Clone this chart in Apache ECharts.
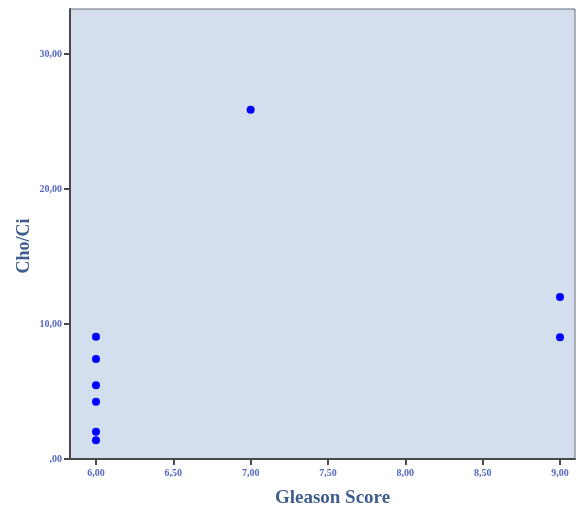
<!DOCTYPE html>
<html>
<head>
<meta charset="utf-8">
<script src="https://cdn.jsdelivr.net/npm/echarts@6/dist/echarts.min.js"></script>
<style>html,body{margin:0;padding:0;background:#fff;}#c{width:577px;height:507px;}</style>
</head>
<body>
<div id="c"></div>
<script>
const xValues = [6, 6, 6, 6, 6, 6, 7, 9, 9];
const yValues = [9.06, 7.41, 5.46, 4.24, 2.02, 1.39, 25.87, 12.0, 9.01];
const xTicks = [6, 6.5, 7, 7.5, 8, 8.5, 9];
const yTicks = [0, 10, 20, 30];
const xName = 'Gleason Score';
const yName = 'Cho/Ci';

function fmt(v) {
  let s = v.toFixed(2).replace('.', ',');
  if (s.startsWith('0,')) s = s.slice(1);
  return s;
}

const points = xValues.map((x, i) => [x, yValues[i]]);
const chart = echarts.init(document.getElementById('c'), null, {renderer: 'canvas'});
const labelStyle = {fontFamily: 'Liberation Serif', fontWeight: 'bold', fontSize: 10, color: '#5468c4'};
chart.setOption({
  animation: false,
  backgroundColor: '#ffffff',
  grid: {left: 70, top: 9, right: 2, bottom: 48, containLabel: false, outerBoundsMode: 'none', show: true, backgroundColor: '#d3dfee', borderColor: '#6a6f78', borderWidth: 1},
  xAxis: {
    type: 'value', min: 5.832, max: 9.097,
    name: xName, nameLocation: 'middle', nameGap: 30, nameMoveOverlap: false,
    nameTextStyle: {fontFamily: 'Liberation Serif', fontWeight: 'bold', fontSize: 19, color: '#3f5e8e', padding: [0, 0, 0, 20]},
    axisLine: {show: true, lineStyle: {color: '#4a4a4a', width: 2}},
    axisTick: {show: true, inside: false, length: 6, lineStyle: {color: '#4a4a4a', width: 2}, customValues: xTicks},
    axisLabel: Object.assign({margin: 9, customValues: xTicks, formatter: fmt}, labelStyle),
    splitLine: {show: false}
  },
  yAxis: {
    type: 'value', min: 0, max: 33.33,
    name: yName, nameLocation: 'middle', nameGap: 37, nameRotate: 90, nameMoveOverlap: false,
    nameTextStyle: {fontFamily: 'Liberation Serif', fontWeight: 'bold', fontSize: 18, color: '#3f5e8e', padding: [0, 24, 0, 0]},
    axisLine: {show: true, lineStyle: {color: '#4a4a4a', width: 2}},
    axisTick: {show: true, length: 6, lineStyle: {color: '#4a4a4a', width: 2}, customValues: yTicks},
    axisLabel: Object.assign({margin: 8, customValues: yTicks, formatter: fmt}, labelStyle),
    splitLine: {show: false}
  },
  series: [{
    type: 'scatter',
    data: points,
    symbol: 'circle',
    symbolSize: 8,
    itemStyle: {color: '#0000ff', opacity: 1}
  }]
});
</script>
</body>
</html>
